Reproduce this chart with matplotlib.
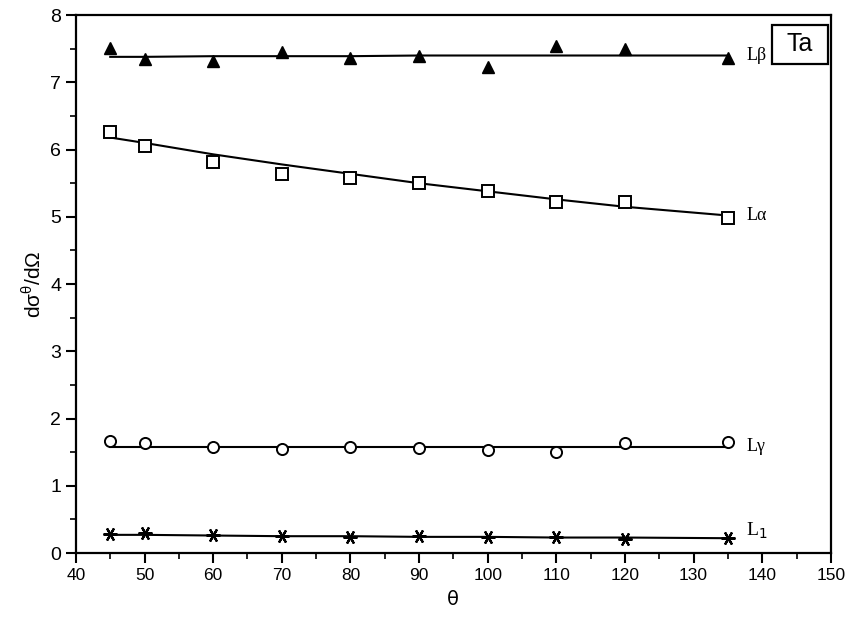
import numpy as np
import matplotlib
matplotlib.use("Agg")
import matplotlib.pyplot as plt
from matplotlib.patches import Rectangle
from matplotlib.ticker import MultipleLocator

theta = [45, 50, 60, 70, 80, 90, 100, 110, 120, 135]

L_beta = [7.51, 7.35, 7.32, 7.45, 7.36, 7.39, 7.23, 7.54, 7.49, 7.37]
L_alpha = [6.26, 6.05, 5.82, 5.64, 5.58, 5.50, 5.39, 5.22, 5.22, 4.99]
L_gamma = [1.66, 1.63, 1.57, 1.54, 1.57, 1.56, 1.53, 1.50, 1.63, 1.65]
L_1 = [0.28, 0.30, 0.27, 0.25, 0.24, 0.25, 0.24, 0.24, 0.21, 0.22]

# fitted curves as drawn in the figure
fit_beta = [7.38, 7.38, 7.39, 7.39, 7.39, 7.40, 7.40, 7.40, 7.40, 7.40]
fit_alpha = [6.18, 6.10, 5.93, 5.78, 5.64, 5.50, 5.38, 5.26, 5.15, 5.02]
fit_gamma = [1.58, 1.58, 1.58, 1.58, 1.58, 1.58, 1.58, 1.58, 1.58, 1.58]
fit_1 = [0.27, 0.27, 0.26, 0.25, 0.25, 0.24, 0.24, 0.23, 0.23, 0.22]

labels = ["Lβ", "Lα", "Lγ", "L$_1$"]

fig = plt.figure(figsize=(8.53, 6.32), dpi=100)
ax = fig.add_axes([0.0890, 0.125, 0.885, 0.851])

ax.plot(theta, fit_beta, color="black", lw=1.5)
ax.plot(theta, fit_alpha, color="black", lw=1.5)
ax.plot(theta, fit_gamma, color="black", lw=1.5)
ax.plot(theta, fit_1, color="black", lw=1.5)

ax.plot(theta, L_beta, linestyle="none", marker="^", ms=9, color="black")
ax.plot(theta, L_alpha, linestyle="none", marker="s", ms=8, mfc="white", mec="black", mew=1.4)
ax.plot(theta, L_gamma, linestyle="none", marker="o", ms=8, mfc="white", mec="black", mew=1.4)
ax.plot(theta, L_1, linestyle="none", marker=(6, 2, 90), ms=10, color="black", mew=1.6)

serif = "Liberation Serif"
ax.text(137.7, fit_beta[-1], labels[0], family=serif, fontsize=13, va="center", ha="left")
ax.text(137.7, fit_alpha[-1], labels[1], family=serif, fontsize=13, va="center", ha="left")
ax.text(137.7, fit_gamma[-1], labels[2], family=serif, fontsize=13, va="center", ha="left")
ax.text(137.7, 0.33, labels[3], family=serif, fontsize=14, va="center", ha="left")

ax.add_patch(Rectangle((141.5, 7.27), 8.05, 0.58, fc="white", ec="black", lw=1.6, zorder=3))
ax.text(145.5, 7.57, "Ta", family="Liberation Sans", fontsize=18, ha="center", va="center", zorder=4)

ax.set_xlim(40, 150)
ax.set_ylim(0, 8)
ax.xaxis.set_major_locator(MultipleLocator(10))
ax.xaxis.set_minor_locator(MultipleLocator(5))
ax.yaxis.set_major_locator(MultipleLocator(1))
ax.yaxis.set_minor_locator(MultipleLocator(0.5))
ax.tick_params(which="major", direction="out", length=7, width=1.5)
ax.tick_params(which="minor", direction="out", length=4, width=1.2)
ax.tick_params(axis="y", labelsize=14)
ax.tick_params(axis="x", labelsize=12.5)
for lab in ax.get_xticklabels() + ax.get_yticklabels():
    lab.set_family("Liberation Sans")
for s in ax.spines.values():
    s.set_linewidth(1.6)

ax.set_xlabel("θ", fontsize=14, family="DejaVu Sans", labelpad=5)
ax.set_ylabel("dσ$^{\\mathregular{θ}}$/dΩ", fontsize=15, family="Liberation Sans", labelpad=4)

fig.savefig("out.png", dpi=100)
